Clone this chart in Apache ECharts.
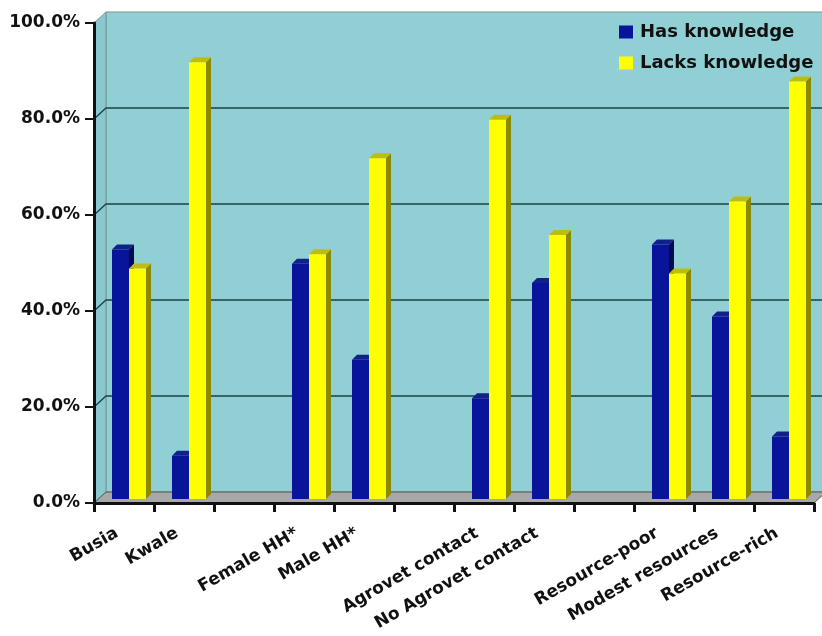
<!DOCTYPE html>
<html>
<head>
<meta charset="utf-8">
<script src="https://cdn.jsdelivr.net/npm/echarts@6/dist/echarts.min.js"></script>
<style>
  html, body { margin: 0; padding: 0; background: #ffffff; }
  #chart { width: 822px; height: 636px; }
</style>
</head>
<body>
<div id="chart"></div>
<script>
// Knowledge share by district, household head sex, agrovet contact and resource level
var categories = ['Busia', 'Kwale', '', 'Female HH*', 'Male HH*', '', 'Agrovet contact',
  'No Agrovet contact', '', 'Resource-poor', 'Modest resources', 'Resource-rich'];
var hasKnowledge = [52, 9, null, 49, 29, null, 21, 45, null, 53, 38, 13];
var lacksKnowledge = [48, 91, null, 51, 71, null, 79, 55, null, 47, 62, 87];
var yTicks = [0, 20, 40, 60, 80, 100];

var FONT = 'DejaVu Sans';
// depth of the back wall and of the bars (pixels)
var WALL_DX = 12, WALL_DY = -11;
var BAR_DX = 4, BAR_DY = -4, BAR_DEPTH = 5, BAR_W = 17;

function toData(arr) {
  var out = [];
  arr.forEach(function (v, i) { if (v !== null) out.push([i, v]); });
  return out;
}

function barRenderer(front, side, top, leftOffset) {
  return function (params, api) {
    var idx = api.value(0), val = api.value(1);
    var p1 = api.coord([idx, val]);
    var p0 = api.coord([idx, 0]);
    var l = p1[0] + leftOffset + BAR_DX;
    var r = l + BAR_W;
    var yt = p1[1] + BAR_DY;
    var yb = p0[1] + BAR_DY;
    var d = BAR_DEPTH;
    return {
      type: 'group',
      children: [
        { type: 'polygon', shape: { points: [[r, yb], [r + d, yb - d], [r + d, yt - d], [r, yt]] },
          style: { fill: side } },
        { type: 'polygon', shape: { points: [[l, yt], [l + d, yt - d], [r + d, yt - d], [r, yt]] },
          style: { fill: top } },
        { type: 'rect', shape: { x: l, y: yt, width: BAR_W, height: yb - yt },
          style: { fill: front } }
      ]
    };
  };
}

function frameRenderer(params, api) {
  var n = categories.length;
  var a = api.coord([0, yTicks[0]]);
  var half = api.size([1, 0])[0] / 2;
  var x0 = a[0] - half;
  var x1 = api.coord([n - 1, 0])[0] + half;
  var y0 = a[1];
  var y1 = api.coord([0, yTicks[yTicks.length - 1]])[1];
  var children = [];
  // back wall
  children.push({ type: 'rect',
    shape: { x: x0 + WALL_DX, y: y1 + WALL_DY, width: x1 - x0, height: y0 - y1 },
    style: { fill: '#90d0d5', stroke: '#7f9193', lineWidth: 1 } });
  // left side wall
  children.push({ type: 'polygon',
    shape: { points: [[x0, y1], [x0 + WALL_DX, y1 + WALL_DY], [x0 + WALL_DX, y0 + WALL_DY], [x0, y0]] },
    style: { fill: '#88c8ce', stroke: '#7f9193', lineWidth: 1 } });
  // gridlines across the side wall and the back wall
  yTicks.slice(1, yTicks.length - 1).forEach(function (t) {
    var y = api.coord([0, t])[1];
    children.push({ type: 'polyline',
      shape: { points: [[x0, y], [x0 + WALL_DX, y + WALL_DY], [x1 + WALL_DX, y + WALL_DY]] },
      style: { stroke: '#1b4248', lineWidth: 1.3, fill: null } });
  });
  // floor
  children.push({ type: 'polygon',
    shape: { points: [[x0, y0], [x0 + WALL_DX, y0 + WALL_DY], [x1 + WALL_DX, y0 + WALL_DY], [x1, y0]] },
    style: { fill: '#a8a8a8', stroke: '#555555', lineWidth: 1 } });
  return { type: 'group', children: children };
}

var chart = echarts.init(document.getElementById('chart'), null, { renderer: 'canvas' });

chart.setOption({
  backgroundColor: '#ffffff',
  animation: false,
  grid: { left: 94, right: 8, top: 23, bottom: 133, containLabel: false },
  legend: {
    orient: 'vertical',
    left: 619, top: 23,
    padding: 0,
    itemGap: 13,
    itemWidth: 14, itemHeight: 13,
    icon: 'rect',
    data: ['Has knowledge', 'Lacks knowledge'],
    textStyle: { fontFamily: FONT, fontWeight: 'bold', fontSize: 18, lineHeight: 18,
      color: '#111111', padding: [0, 0, 0, 2] }
  },
  xAxis: {
    type: 'category',
    data: categories,
    axisLine: { lineStyle: { color: '#111111', width: 3 } },
    axisTick: { show: true, interval: 0, length: 9, lineStyle: { color: '#111111', width: 3 } },
    axisLabel: {
      interval: 0, rotate: 30, margin: 25,
      fontFamily: FONT, fontWeight: 'bold', fontSize: 17, color: '#111111',
      padding: [0, 8, 0, 0]
    },
    splitLine: { show: false }
  },
  yAxis: {
    type: 'value',
    min: 0, max: 100, interval: 20,
    axisLine: { show: true, lineStyle: { color: '#111111', width: 3 } },
    axisTick: { show: true, length: 9, lineStyle: { color: '#111111', width: 2 } },
    axisLabel: {
      margin: 14,
      fontFamily: FONT, fontWeight: 'bold', fontSize: 17, color: '#111111',
      formatter: function (v) { return v.toFixed(1) + '%'; }
    },
    splitLine: { show: false }
  },
  series: [
    {
      name: 'frame',
      type: 'custom',
      z: -1,
      silent: true,
      data: [[0, 0]],
      renderItem: frameRenderer
    },
    {
      name: 'Has knowledge',
      type: 'custom',
      itemStyle: { color: '#08149a' },
      encode: { x: 0, y: 1 },
      data: toData(hasKnowledge),
      renderItem: barRenderer('#08149a', '#030a50', '#12208a', -16)
    },
    {
      name: 'Lacks knowledge',
      type: 'custom',
      itemStyle: { color: '#ffff00' },
      encode: { x: 0, y: 1 },
      data: toData(lacksKnowledge),
      renderItem: barRenderer('#ffff00', '#8a8a00', '#bdbd10', 1)
    }
  ]
});
</script>
</body>
</html>
